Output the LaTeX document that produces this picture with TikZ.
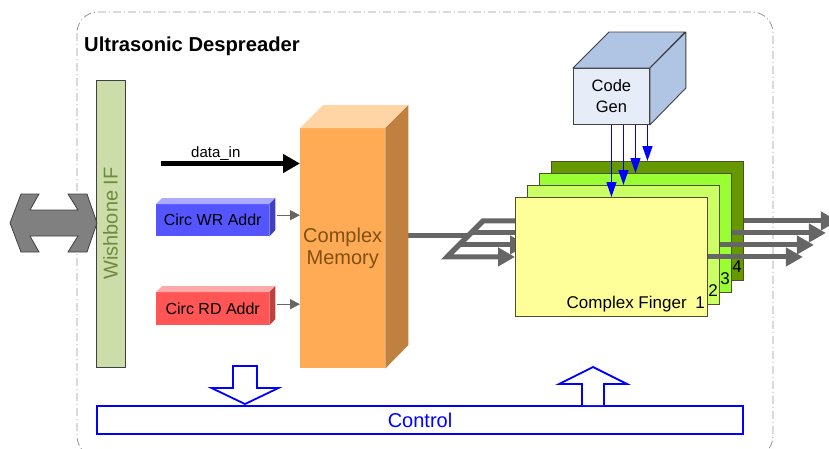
\documentclass[tikz,border=0pt]{standalone}
\usepackage{fontspec}
\setmainfont{Liberation Sans}
\usetikzlibrary{arrows.meta,calc,backgrounds}

\definecolor{framegray}{RGB}{150,150,150}
\definecolor{wbfill}{RGB}{204,221,170}
\definecolor{wbtext}{RGB}{110,139,61}
\definecolor{arrowgray}{RGB}{128,128,128}
\definecolor{edgedark}{RGB}{64,64,64}
\definecolor{busgray}{RGB}{102,102,102}
\definecolor{wrfront}{RGB}{85,85,255}
\definecolor{wrtop}{RGB}{170,170,255}
\definecolor{wrside}{RGB}{64,64,192}
\definecolor{rdfront}{RGB}{255,85,85}
\definecolor{rdtop}{RGB}{255,170,170}
\definecolor{rdside}{RGB}{192,64,64}
\definecolor{memfront}{RGB}{255,170,85}
\definecolor{memtop}{RGB}{255,213,165}
\definecolor{memside}{RGB}{192,128,64}
\definecolor{memtext}{RGB}{128,80,16}
\definecolor{cgfront}{RGB}{230,236,248}
\definecolor{cgface}{RGB}{176,196,228}
\definecolor{fingA}{RGB}{255,255,153}
\definecolor{fingB}{RGB}{204,255,102}
\definecolor{fingC}{RGB}{153,255,51}
\definecolor{fingD}{RGB}{102,153,0}
\definecolor{fingedge}{RGB}{80,80,40}
\definecolor{ctlblue}{RGB}{0,0,255}

\tikzset{
  addrbox/.style={inner sep=0pt, minimum width=113pt, minimum height=32pt,
    anchor=north west, font=\fontsize{16}{19}\selectfont},
  finger/.style={draw=fingedge, line width=0.9pt, inner sep=0pt,
    minimum width=192pt, minimum height=119pt, anchor=north west},
  fnum/.style={anchor=base east, inner sep=0pt, font=\fontsize{17}{20}\selectfont},
  busline/.style={draw=busgray, line width=5pt},
  busarrow/.style={busline, line join=miter, -{Triangle[length=17pt,width=18pt]}},
  thinarrow/.style={draw=busgray, line width=1.4pt, -{Triangle[length=10pt,width=10pt]}},
  datarrow/.style={draw=black, line width=5pt, -{Triangle[length=17pt,width=18pt]}},
  codearrow/.style={draw=ctlblue, line width=1.4pt, -{Triangle[length=15pt,width=10pt]}},
  hollow/.style={draw=ctlblue, line width=1.8pt, fill=white, line join=miter},
  cubeedge/.style={draw=edgedark, line width=0.9pt},
}

\begin{document}
\begin{tikzpicture}[x=1pt,y=-1pt]
\useasboundingbox (0,0) rectangle (829,448);

% dash-dotted enclosure of the despreader block
\begin{pgfonlayer}{background}
\draw[framegray, line width=0.8pt, dash pattern=on 8pt off 3pt on 1pt off 3pt,
      rounded corners=21pt] (77,12) rectangle (773,457);
\end{pgfonlayer}

\node[anchor=base west, inner sep=0pt, font=\bfseries\fontsize{20.2}{24}\selectfont]
  (title) at (84,51) {Ultrasonic Despreader};

% Wishbone interface bar
\node[draw=edgedark, line width=0.9pt, fill=wbfill, rotate=90, inner sep=0pt,
      minimum width=287pt, minimum height=29pt, text=wbtext,
      font=\fontsize{20}{24}\selectfont] (wb) at (110.5,223.5) {Wishbone IF};

% bidirectional bus arrow into the Wishbone interface
\draw[fill=arrowgray, draw=edgedark, line width=0.8pt, line join=miter]
  (10,223) -- (21,194) -- (39,194) -- (30,210) -- (78,210) -- (68,194)
  -- (87,194) -- (97,223) -- (87,252) -- (68,252) -- (78,236) -- (30,236)
  -- (39,252) -- (21,252) -- cycle;

% complex memory block
\node[fill=memfront, inner sep=0pt, minimum width=85pt, minimum height=240pt,
      anchor=north west, text=memtext, align=center,
      font=\fontsize{20}{21.5}\selectfont] (mem) at (300,128) {Complex\\Memory};
\fill[memtop] (mem.north west) -- ++(23,-23) -- ++(85,0) -- (mem.north east) -- cycle;
\fill[memside] (mem.north east) -- ++(23,-23) -- ++(0,240) -- (mem.south east) -- cycle;

% address generators
\node[addrbox, fill=wrfront] (wr) at (156,204) {Circ WR Addr};
\fill[wrtop] (wr.north west) -- ++(6,-6) -- ++(113,0) -- (wr.north east) -- cycle;
\fill[wrside] (wr.north east) -- ++(6,-6) -- ++(0,32) -- (wr.south east) -- cycle;

\node[addrbox, fill=rdfront, minimum height=33pt] (rd) at (156,292) {Circ RD Addr};
\fill[rdtop] (rd.north west) -- ++(6,-6) -- ++(113,0) -- (rd.north east) -- cycle;
\fill[rdside] (rd.north east) -- ++(6,-6) -- ++(0,33) -- (rd.south east) -- cycle;

\path ([shift={(8,-5)}]wr.east) coordinate (wrout);
\path ([shift={(8,-4.5)}]rd.east) coordinate (rdout);
\draw[thinarrow] (wrout) -- (wrout -| mem.west);
\draw[thinarrow] (rdout) -- (rdout -| mem.west);

% data input
\coordinate (din) at (161,163.5);
\draw[datarrow] (din) -- (din -| mem.west);
\node[anchor=base west, inner sep=0pt, font=\fontsize{15}{18}\selectfont]
  (dinlbl) at (191,157) {data\_in};

% stacked finger correlators (back to front)
\node[finger, fill=fingD] (f4) at (551,161) {};
\node[finger, fill=fingC] (f3) at (539,173) {};
\node[finger, fill=fingB] (f2) at (527,185) {};
\node[finger, fill=fingA] (f1) at (515,197) {};
\node[fnum] at ([shift={(-2,-8)}]f4.south east) {4};
\node[fnum] at ([shift={(-2,-8)}]f3.south east) {3};
\node[fnum] at ([shift={(-2,-8)}]f2.south east) {2};
\node[fnum] at ([shift={(-3,-8)}]f1.south east) {1};
\node[fnum] (cflbl) at ([shift={(-21,-8)}]f1.south east) {Complex Finger};

% memory output fanned out to the fingers
\begin{pgfonlayer}{background}
\path ([xshift=-68pt]f1.west) coordinate (a1)
      ([xshift=-68pt]f2.west) coordinate (a2)
      ([xshift=-68pt]f3.west) coordinate (a3)
      ([xshift=-68pt]f4.west) coordinate (a4);
\path ([shift={(11,-13)}]mem.east) coordinate (memout);
\path ($(a1)!0.6!(a4)$) coordinate (tap);
\draw[busline] (memout) -- (memout -| tap);
\draw[busarrow] (a1) -- (a4) -- (f4.west);
\draw[busarrow] (a4) -- (a1) -- (f1.west);
\draw[busarrow] (a2) -- (f2.west);
\draw[busarrow] (a3) -- (f3.west);
\end{pgfonlayer}

% finger outputs
\draw[busarrow] (f4.east) -- ++(94,0);
\draw[busarrow] (f3.east) -- ++(94,0);
\draw[busarrow] (f2.east) -- ++(94,0);
\draw[busarrow] (f1.east) -- ++(95,0);

% code generator cube
\node[cubeedge, fill=cgfront, inner sep=0pt, minimum width=76pt, minimum height=56pt,
      anchor=north west, align=center, font=\fontsize{16.5}{21}\selectfont]
  (cg) at (573,68) {Code\\Gen};
\filldraw[cubeedge, fill=cgface, line join=round]
  (cg.north west) -- ++(36,-36) -- ++(76,0) -- (cg.north east) -- cycle;
\filldraw[cubeedge, fill=cgface, line join=round]
  (cg.north east) -- ++(36,-36) -- ++(0,56) -- (cg.south east) -- cycle;

\draw[codearrow] (cg.south) -- (cg.south |- f1.north);
\draw[codearrow] ([xshift=12pt]cg.south) -- ([xshift=12pt]cg.south |- f2.north);
\draw[codearrow] ([xshift=24pt]cg.south) -- ([xshift=24pt]cg.south |- f3.north);
\draw[codearrow] ([xshift=36pt]cg.south) -- ([xshift=36pt]cg.south |- f4.north);

% control block and its hollow arrows
\node[draw=ctlblue, line width=2pt, fill=white, inner sep=0pt, anchor=north west,
      minimum width=646pt, minimum height=28pt, text=ctlblue,
      font=\fontsize{20}{24}\selectfont] (ctl) at (96,405) {Control};

\path ([shift={(149,-1)}]ctl.north west) coordinate (dtip);
\draw[hollow] (dtip) -- ++(-33.5,-16) -- ++(21.5,0) -- ++(0,-22) -- ++(24,0)
  -- ++(0,22) -- ++(21.5,0) -- cycle;

\path ([xshift=497pt]ctl.north west) coordinate (ubase);
\draw[hollow] ([xshift=-11pt]ubase) -- ++(0,-21) -- ++(-23,0) -- ++(34,-17)
  -- ++(34,17) -- ++(-23,0) -- ++(0,21);
\end{tikzpicture}
\end{document}
